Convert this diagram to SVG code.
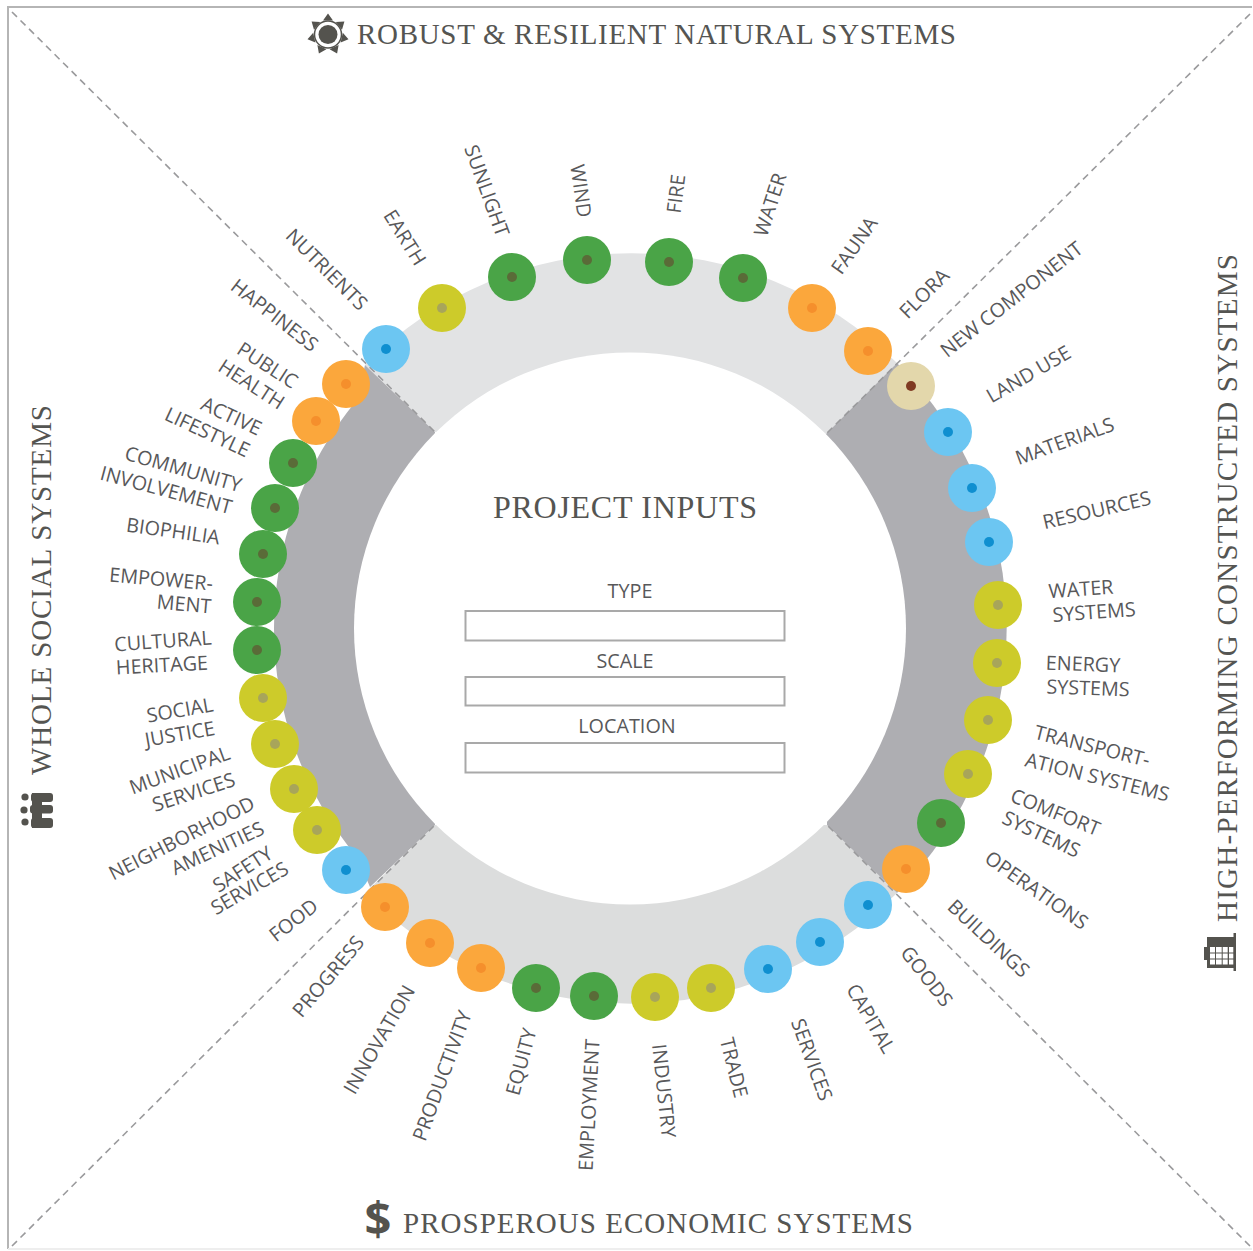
<svg xmlns="http://www.w3.org/2000/svg" width="1253" height="1251" viewBox="0 0 1253 1251">
<style>
.t{font-family:"Liberation Serif","Times New Roman",serif;fill:#555552}
.title{font-size:29px}
.l{font-family:"Open Sans","Liberation Sans",sans-serif;font-size:19.8px;fill:#58585a;text-anchor:middle}
.f{fill:#fff;stroke:#a9a9a9;stroke-width:2}
.d{fill:none;stroke:#9a9a9c;stroke-width:1.6;stroke-dasharray:7 5}
.o{fill:#fba73c}.oc{fill:#f58f2c}
.b{fill:#6cc6f2}.bc{fill:#0f8fd0}
.g{fill:#4aa447}.gc{fill:#5a6b38}
.y{fill:#cdcb2a}.yc{fill:#a8a55a}
.ic{fill:#54534e}
</style>
<rect x="0" y="0" width="1253" height="1251" fill="#fff"/>
<path d="M8 1249V7H1252" fill="none" stroke="#b5b5b5" stroke-width="2"/>
<path d="M8 1249H1252" fill="none" stroke="#eeeeee" stroke-width="2"/>
<g id="ring">
<path d="M435 432L365 365A375 375 0 0 1 897 363L826 434Z" fill="#e2e3e4"/>
<path d="M435 825L365 893A375 375 0 0 0 897 893L827 825Z" fill="#dcdddd"/>
<path d="M826 434L897 363A375 375 0 0 1 897 893L827 825Z" fill="#aeaeb2"/>
<path d="M435 432L365 365L357 400A356 356 0 0 0 357 857L370 887L435 825Z" fill="#aeaeb2"/>
<circle cx="630" cy="628.5" r="276" fill="#fff"/>
</g>
<g id="connectors">
<path class="d" d="M12 12L435 432M1250 14L826 434M12 1246L435 825M1250 1246L827 825"/>
</g>
<g id="header-natural">
<g id="icon-sun" class="ic">
<circle cx="328" cy="34.500" r="9.500"/>
<circle cx="328" cy="34.500" r="13.500" fill="none" stroke="#54534e" stroke-width="1.500"/>
<path d="M328 13.500L333 20.500H323ZM344.400 21.400L342 29.700L335.800 21.900ZM348.500 39.200L340.600 42.500L342.800 32.700ZM337.100 53.400L329.600 49.300L338.600 44.900ZM318.900 53.400L317.400 44.900L326.400 49.300ZM307.500 39.200L313.200 32.700L315.400 42.500ZM311.600 21.400L320.200 21.900L314 29.700Z"/>
</g>
<text class="t title" x="357" y="44" textLength="599">ROBUST &amp; RESILIENT NATURAL SYSTEMS</text>
</g>
<g id="header-social">
<g id="icon-people" class="ic">
<circle cx="25" cy="797" r="3.600"/><circle cx="24" cy="810" r="3.600"/><circle cx="25" cy="822" r="3.600"/>
<rect x="31" y="793" width="22" height="9" rx="3"/><rect x="30" y="805" width="23" height="8.500" rx="3"/><rect x="31" y="818" width="22" height="10" rx="3"/><rect x="32" y="793" width="10" height="35"/>
</g>
<text class="t title" transform="translate(51 775) rotate(-90)" textLength="370">WHOLE SOCIAL SYSTEMS</text>
</g>
<g id="header-constructed">
<g id="icon-building">
<rect x="1207" y="937" width="27" height="31" fill="#54534e"/>
<rect x="1233.500" y="933" width="2.500" height="38" fill="#54534e"/>
<rect x="1204" y="947" width="3" height="13" fill="#54534e"/>
<path d="M1210 947h5v5.500h-5zM1216 947h5.700v5.500h-5.700zM1222.700 947h5v5.500h-5zM1229 947h4.300v5.500h-4.300zM1210 953.500h5v5h-5zM1216 953.500h5.700v5h-5.700zM1222.700 953.500h5v5h-5zM1229 953.500h4.300v5h-4.300zM1210 959.500h5v5h-5zM1216 959.500h5.700v5h-5.700zM1222.700 959.500h5v5h-5zM1229 959.500h4.300v5h-4.300z" fill="#fff"/>
</g>
<text class="t title" transform="translate(1237 922) rotate(-90)" textLength="668">HIGH-PERFORMING CONSTRUCTED SYSTEMS</text>
</g>
<g id="header-economic">
<text x="378" y="1236" font-family="'Open Sans','Liberation Sans',sans-serif" font-weight="700" font-size="47" text-anchor="middle" fill="#54534e">$</text>
<text class="t title" x="403" y="1233" textLength="510">PROSPEROUS ECONOMIC SYSTEMS</text>
</g>
<g id="project-inputs">
<text class="t" x="625" y="518" font-size="32" text-anchor="middle" textLength="264">PROJECT INPUTS</text>
<text class="l" x="630" y="598">TYPE</text>
<rect class="f" x="465.500" y="611" width="319" height="29.500"/>
<text class="l" x="625" y="668">SCALE</text>
<rect class="f" x="465.500" y="677" width="319" height="28.500"/>
<text class="l" x="627" y="733">LOCATION</text>
<rect class="f" x="465.500" y="743" width="319" height="29.500"/>
</g>
<g id="n-earth"><circle class="y" cx="442" cy="308" r="24"/><circle class="yc" cx="442" cy="308" r="5"/><text class="l" transform="translate(404 238) rotate(58)" dy="6">EARTH</text></g>
<g id="n-sunlight"><circle class="g" cx="512" cy="277" r="24"/><circle class="gc" cx="512" cy="277" r="5"/><text class="l" transform="translate(486 191) rotate(70)" dy="6">SUNLIGHT</text></g>
<g id="n-wind"><circle class="g" cx="587" cy="260" r="24"/><circle class="gc" cx="587" cy="260" r="5"/><text class="l" transform="translate(580 191) rotate(82)" dy="6">WIND</text></g>
<g id="n-fire"><circle class="g" cx="669" cy="262" r="24"/><circle class="gc" cx="669" cy="262" r="5"/><text class="l" transform="translate(677 194) rotate(-83)" dy="6">FIRE</text></g>
<g id="n-water"><circle class="g" cx="743" cy="278" r="24"/><circle class="gc" cx="743" cy="278" r="5"/><text class="l" transform="translate(771 205) rotate(-72)" dy="6">WATER</text></g>
<g id="n-fauna"><circle class="o" cx="812" cy="308" r="24"/><circle class="oc" cx="812" cy="308" r="5"/><text class="l" transform="translate(855 246) rotate(-55)" dy="6">FAUNA</text></g>
<g id="n-flora"><circle class="o" cx="868" cy="351" r="24"/><circle class="oc" cx="868" cy="351" r="5"/><text class="l" transform="translate(925 294) rotate(-45)" dy="6">FLORA</text></g>
<g id="n-new-component"><circle cx="911" cy="386" r="24" fill="#e3d7ab"/><circle cx="911" cy="386" r="5" fill="#7f3a22"/><text class="l" transform="translate(1012 300) rotate(-38)" dy="6">NEW COMPONENT</text></g>
<g id="n-land-use"><circle class="b" cx="948" cy="432" r="24"/><circle class="bc" cx="948" cy="432" r="5"/><text class="l" transform="translate(1029 375) rotate(-30)" dy="6">LAND USE</text></g>
<g id="n-materials"><circle class="b" cx="972" cy="488" r="24"/><circle class="bc" cx="972" cy="488" r="5"/><text class="l" transform="translate(1065 442) rotate(-20)" dy="6">MATERIALS</text></g>
<g id="n-resources"><circle class="b" cx="989" cy="542" r="24"/><circle class="bc" cx="989" cy="542" r="5"/><text class="l" transform="translate(1097 511) rotate(-13)" dy="6">RESOURCES</text></g>
<g id="n-water-systems"><circle class="y" cx="998" cy="605" r="24"/><circle class="yc" cx="998" cy="605" r="5"/><text class="l" transform="translate(1081 590) rotate(-4)" dy="6">WATER</text><text class="l" transform="translate(1094 613) rotate(-4)" dy="6">SYSTEMS</text></g>
<g id="n-energy-systems"><circle class="y" cx="997" cy="663" r="24"/><circle class="yc" cx="997" cy="663" r="5"/><text class="l" transform="translate(1083 665) rotate(2)" dy="6">ENERGY</text><text class="l" transform="translate(1088 689) rotate(2)" dy="6">SYSTEMS</text></g>
<g id="n-transportation"><circle class="y" cx="988" cy="720" r="24"/><circle class="yc" cx="988" cy="720" r="5"/><text class="l" transform="translate(1092 747) rotate(14)" dy="6">TRANSPORT-</text><text class="l" transform="translate(1097 778) rotate(14)" dy="6">ATION SYSTEMS</text></g>
<g id="n-comfort"><circle class="y" cx="968" cy="774" r="24"/><circle class="yc" cx="968" cy="774" r="5"/><text class="l" transform="translate(1055 813) rotate(22)" dy="6">COMFORT</text><text class="l" transform="translate(1041 835) rotate(25)" dy="6">SYSTEMS</text></g>
<g id="n-operations"><circle class="g" cx="941" cy="823" r="24"/><circle class="gc" cx="941" cy="823" r="5"/><text class="l" transform="translate(1036 891) rotate(35)" dy="6">OPERATIONS</text></g>
<g id="n-buildings"><circle class="o" cx="906" cy="869" r="24"/><circle class="oc" cx="906" cy="869" r="5"/><text class="l" transform="translate(988 939) rotate(43)" dy="6">BUILDINGS</text></g>
<g id="n-goods"><circle class="b" cx="868" cy="905" r="24"/><circle class="bc" cx="868" cy="905" r="5"/><text class="l" transform="translate(926 977) rotate(52)" dy="6">GOODS</text></g>
<g id="n-capital"><circle class="b" cx="820" cy="942" r="24"/><circle class="bc" cx="820" cy="942" r="5"/><text class="l" transform="translate(870 1019) rotate(60)" dy="6">CAPITAL</text></g>
<g id="n-services"><circle class="b" cx="768" cy="969" r="24"/><circle class="bc" cx="768" cy="969" r="5"/><text class="l" transform="translate(811 1060) rotate(70)" dy="6">SERVICES</text></g>
<g id="n-trade"><circle class="y" cx="711" cy="988" r="24"/><circle class="yc" cx="711" cy="988" r="5"/><text class="l" transform="translate(733 1068) rotate(76)" dy="6">TRADE</text></g>
<g id="n-industry"><circle class="y" cx="655" cy="997" r="24"/><circle class="yc" cx="655" cy="997" r="5"/><text class="l" transform="translate(663 1091) rotate(84)" dy="6">INDUSTRY</text></g>
<g id="n-employment"><circle class="g" cx="594" cy="996" r="24"/><circle class="gc" cx="594" cy="996" r="5"/><text class="l" transform="translate(590 1105) rotate(-87)" dy="6">EMPLOYMENT</text></g>
<g id="n-equity"><circle class="g" cx="536" cy="988" r="24"/><circle class="gc" cx="536" cy="988" r="5"/><text class="l" transform="translate(522 1062) rotate(-75)" dy="6">EQUITY</text></g>
<g id="n-productivity"><circle class="o" cx="481" cy="968" r="24"/><circle class="oc" cx="481" cy="968" r="5"/><text class="l" transform="translate(443 1076) rotate(-70)" dy="6">PRODUCTIVITY</text></g>
<g id="n-innovation"><circle class="o" cx="430" cy="943" r="24"/><circle class="oc" cx="430" cy="943" r="5"/><text class="l" transform="translate(380 1040) rotate(-60)" dy="6">INNOVATION</text></g>
<g id="n-progress"><circle class="o" cx="385" cy="907" r="24"/><circle class="oc" cx="385" cy="907" r="5"/><text class="l" transform="translate(329 977) rotate(-50)" dy="6">PROGRESS</text></g>
<g id="n-food"><circle class="b" cx="346" cy="870" r="24"/><circle class="bc" cx="346" cy="870" r="5"/><text class="l" transform="translate(294 921) rotate(-38)" dy="6">FOOD</text></g>
<g id="n-safety"><circle class="y" cx="317" cy="830" r="24"/><circle class="yc" cx="317" cy="830" r="5"/><text class="l" transform="translate(243 870) rotate(-33)" dy="6">SAFETY</text><text class="l" transform="translate(250 889) rotate(-30)" dy="6">SERVICES</text></g>
<g id="n-neighborhood"><circle class="y" cx="294" cy="789" r="24"/><circle class="yc" cx="294" cy="789" r="5"/><text class="l" transform="translate(182 839) rotate(-27)" dy="6">NEIGHBORHOOD</text><text class="l" transform="translate(218 849) rotate(-25)" dy="6">AMENITIES</text></g>
<g id="n-municipal"><circle class="y" cx="275" cy="744" r="24"/><circle class="yc" cx="275" cy="744" r="5"/><text class="l" transform="translate(180 771) rotate(-20)" dy="6">MUNICIPAL</text><text class="l" transform="translate(194 793) rotate(-18)" dy="6">SERVICES</text></g>
<g id="n-social-justice"><circle class="y" cx="263" cy="698" r="24"/><circle class="yc" cx="263" cy="698" r="5"/><text class="l" transform="translate(180 711) rotate(-10)" dy="6">SOCIAL</text><text class="l" transform="translate(180 735) rotate(-10)" dy="6">JUSTICE</text></g>
<g id="n-cultural"><circle class="g" cx="257" cy="650" r="24"/><circle class="gc" cx="257" cy="650" r="5"/><text class="l" transform="translate(163 642) rotate(-4)" dy="6">CULTURAL</text><text class="l" transform="translate(162 666) rotate(-3)" dy="6">HERITAGE</text></g>
<g id="n-empowerment"><circle class="g" cx="257" cy="602" r="24"/><circle class="gc" cx="257" cy="602" r="5"/><text class="l" transform="translate(161 580) rotate(5)" dy="6">EMPOWER-</text><text class="l" transform="translate(184 605) rotate(5)" dy="6">MENT</text></g>
<g id="n-biophilia"><circle class="g" cx="263" cy="554" r="24"/><circle class="gc" cx="263" cy="554" r="5"/><text class="l" transform="translate(173 532) rotate(8)" dy="6">BIOPHILIA</text></g>
<g id="n-community"><circle class="g" cx="275" cy="508" r="24"/><circle class="gc" cx="275" cy="508" r="5"/><text class="l" transform="translate(183 470) rotate(16)" dy="6">COMMUNITY</text><text class="l" transform="translate(166 491) rotate(15)" dy="6">INVOLVEMENT</text></g>
<g id="n-active"><circle class="g" cx="293" cy="463" r="24"/><circle class="gc" cx="293" cy="463" r="5"/><text class="l" transform="translate(231 417) rotate(25)" dy="6">ACTIVE</text><text class="l" transform="translate(207 433) rotate(25)" dy="6">LIFESTYLE</text></g>
<g id="n-public-health"><circle class="o" cx="316" cy="421" r="24"/><circle class="oc" cx="316" cy="421" r="5"/><text class="l" transform="translate(267 366) rotate(33)" dy="6">PUBLIC</text><text class="l" transform="translate(251 385) rotate(33)" dy="6">HEALTH</text></g>
<g id="n-happiness"><circle class="o" cx="346" cy="384" r="24"/><circle class="oc" cx="346" cy="384" r="5"/><text class="l" transform="translate(274 316) rotate(38)" dy="6">HAPPINESS</text></g>
<g id="n-nutrients"><circle class="b" cx="386" cy="349" r="24"/><circle class="bc" cx="386" cy="349" r="5"/><text class="l" transform="translate(326 270) rotate(45)" dy="6">NUTRIENTS</text></g>
</svg>
